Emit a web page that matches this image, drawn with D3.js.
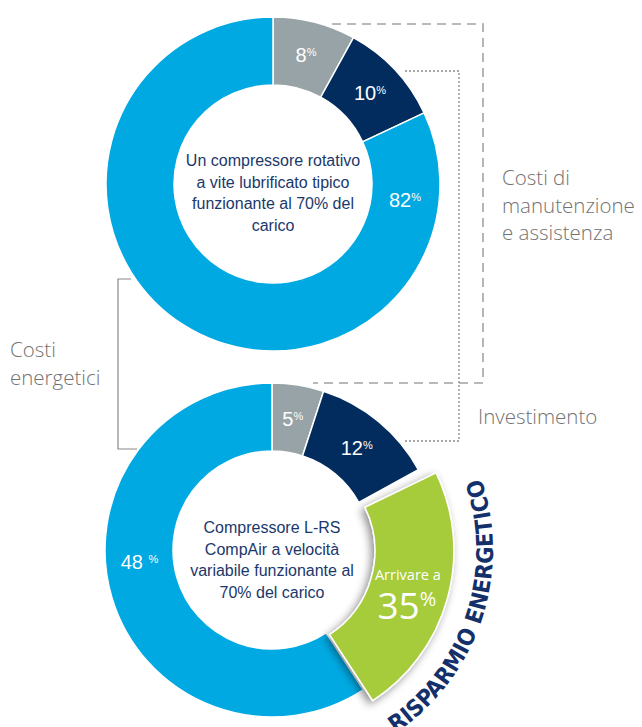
<!DOCTYPE html>
<html>
<head>
<meta charset="utf-8">
<script src="https://cdn.jsdelivr.net/npm/d3@7"></script>
<style>
  body { margin: 0; background: #fff; }
</style>
</head>
<body>
<script>
// slices go clockwise from 12 o'clock: manutenzione, investimento, (risparmio), energia
const topNames = ["Manutenzione", "Investimento", "Energia"];
const topValues = [8, 10, 82];
const bottomNames = ["Manutenzione", "Investimento", "Risparmio", "Energia"];
const bottomValues = [5, 12, 35, 48];
// the artwork is not drawn to scale: share of the ring each bottom slice really takes
const bottomShares = [5, 12, 23.8, 59.2];

const topTitle = ["Un compressore rotativo", "a vite lubrificato tipico", "funzionante al 70% del", "carico"];
const bottomTitle = ["Compressore L-RS", "CompAir a velocità", "variabile funzionante al", "70% del carico"];
const sideMaint = ["Costi di", "manutenzione", "e assistenza"];
const sideEnergy = ["Costi", "energetici"];
const sideInvest = "Investimento";
const savingLabel = "Arrivare a";
const savingBadge = "RISPARMIO ENERGETICO";

const colors = {
  Manutenzione: "#97a3a7",
  Investimento: "#022c5e",
  Energia: "#00a9e2",
  Risparmio: "#a6cb3b"
};

const W = 642, H = 727;
const R = 167, r0 = 99;
const topC = [273, 184], botC = [272, 550];
const deg = Math.PI / 180;

const svg = d3.select("body").append("svg")
    .attr("width", W)
    .attr("height", H)
    .attr("font-family", "'Liberation Sans', Arial, sans-serif");

const defs = svg.append("defs");
defs.append("filter")
    .attr("id", "shadow")
    .attr("x", "-40%").attr("y", "-40%").attr("width", "180%").attr("height", "180%")
  .append("feDropShadow")
    .attr("dx", -3).attr("dy", 3)
    .attr("stdDeviation", 4.5)
    .attr("flood-color", "#000")
    .attr("flood-opacity", 0.45);

const pie = d3.pie().sort(null).value(d => d);
const arc = d3.arc().innerRadius(r0).outerRadius(R);
const labelArc = d3.arc().innerRadius(133).outerRadius(133);

// percentage with the small raised % sign
function pctLabel(g, pos, value, gap) {
  const t = g.append("text")
      .attr("x", pos[0]).attr("y", pos[1] + 7)
      .attr("text-anchor", "middle")
      .attr("fill", "#fff")
      .attr("font-size", 20);
  t.append("tspan").text(value + (gap ? " " : ""));
  t.append("tspan").attr("font-size", 11).attr("dy", -6).text("%");
}

function centerText(g, lines, y0) {
  g.append("text")
      .attr("text-anchor", "middle")
      .attr("fill", "#1b386b")
      .attr("font-size", 16)
    .selectAll("tspan")
    .data(lines)
    .join("tspan")
      .attr("x", 0)
      .attr("y", (d, i) => y0 + i * 21.6)
      .text(d => d);
}

// ---- top donut
const gTop = svg.append("g").attr("transform", `translate(${topC})`);
const topArcs = pie(topValues);

gTop.selectAll("path")
  .data(topArcs)
  .join("path")
    .attr("d", arc)
    .attr("fill", (d, i) => colors[topNames[i]])
    .attr("stroke", "#fff")
    .attr("stroke-width", 1.5);

topArcs.forEach((d, i) => {
  let pos = labelArc.centroid(d);
  if (topNames[i] === "Energia") pos = labelArc.centroid({startAngle: 97 * deg, endAngle: 97 * deg});
  pctLabel(gTop, pos, topValues[i], false);
});
centerText(gTop, topTitle, -18);

// ---- bottom donut
const gBot = svg.append("g").attr("transform", `translate(${botC})`);
const botArcs = pie(bottomShares);

gBot.selectAll("path.slice")
  .data(botArcs.filter((d, i) => bottomNames[i] !== "Risparmio"))
  .join("path")
    .attr("class", "slice")
    .attr("d", arc)
    .attr("fill", d => colors[bottomNames[d.index]])
    .attr("stroke", "#fff")
    .attr("stroke-width", 1.5);

// exploded saving slice with its drop shadow
const saving = botArcs[bottomNames.indexOf("Risparmio")];
const savingArc = d3.arc().innerRadius(r0 + 1).outerRadius(R + 12);
const sv = {startAngle: saving.startAngle + 3 * deg, endAngle: saving.endAngle};
const mid = (sv.startAngle + sv.endAngle) / 2;
const push = 3;
const gSave = gBot.append("g")
    .attr("transform", `translate(${push * Math.sin(mid)},${-push * Math.cos(mid)})`);
gSave.append("path")
    .attr("d", savingArc(sv))
    .attr("fill", colors.Risparmio)
    .attr("stroke", "#fff")
    .attr("stroke-width", 1.5)
    .attr("filter", "url(#shadow)");

const sc = d3.arc().innerRadius(137).outerRadius(137).centroid(sv);
gSave.append("text")
    .attr("x", sc[0] + 1).attr("y", sc[1] - 8)
    .attr("text-anchor", "middle")
    .attr("fill", "#fff")
    .attr("font-family", "'Open Sans', sans-serif")
    .attr("font-size", 14.5)
    .text(savingLabel);
const big = gSave.append("text")
    .attr("x", sc[0]).attr("y", sc[1] + 31)
    .attr("text-anchor", "middle")
    .attr("fill", "#fff")
    .attr("font-family", "'Open Sans', sans-serif")
    .attr("font-size", 37);
big.append("tspan").text(bottomValues[2]);
big.append("tspan").attr("font-size", 20).attr("dy", -13).text("%");

botArcs.forEach((d, i) => {
  if (bottomNames[i] === "Risparmio") return;
  let pos = labelArc.centroid(d);
  if (bottomNames[i] === "Energia") pos = labelArc.centroid({startAngle: 265 * deg, endAngle: 265 * deg});
  pctLabel(gBot, pos, bottomValues[i], bottomNames[i] === "Energia");
});
centerText(gBot, bottomTitle, -17);

// curved badge along the saving slice, read upwards
const rText = R + 54;
const a0 = 146 * deg, a1 = 70 * deg;
const p = (a) => [botC[0] + rText * Math.sin(a), botC[1] - rText * Math.cos(a)];
defs.append("path")
    .attr("id", "badgePath")
    .attr("d", `M${p(a0)} A${rText},${rText} 0 0 0 ${p(a1)}`);
svg.append("text")
    .attr("fill", "#14306a")
    .attr("font-family", "'Liberation Sans Narrow', 'DejaVu Sans Condensed', sans-serif")
    .attr("font-stretch", "condensed")
    .attr("font-weight", "bold")
    .attr("font-size", 23)
  .append("textPath")
    .attr("href", "#badgePath")
    .attr("textLength", rText * (a0 - a1) - 4)
    .attr("lengthAdjust", "spacingAndGlyphs")
    .text(savingBadge);

// ---- connectors
const lines = svg.append("g").attr("fill", "none");
lines.append("path")
    .attr("d", `M${topC[0] + 59},${topC[1] - R + 7} H483 V${botC[1] - R} H${botC[0] + 41}`)
    .attr("stroke", "#a3a3a3")
    .attr("stroke-width", 1.6)
    .attr("stroke-dasharray", "9,6");
lines.append("path")
    .attr("d", `M405,${topC[1] - 113} H459 V441 H405`)
    .attr("stroke", "#8a8a8a")
    .attr("stroke-width", 1.3)
    .attr("stroke-dasharray", "2,2");
lines.append("path")
    .attr("d", "M131,279 H118 V449 H137")
    .attr("stroke", "#8a8a8a")
    .attr("stroke-width", 1.2);

// ---- side captions
function caption(x, y0, rows) {
  svg.append("text")
      .attr("fill", "#727272")
      .attr("font-family", "'Open Sans', sans-serif")
      .attr("font-weight", 300)
      .attr("font-size", 20.5)
    .selectAll("tspan")
    .data(rows)
    .join("tspan")
      .attr("x", x)
      .attr("y", (d, i) => y0 + i * 27.5)
      .text(d => d);
}
caption(502, 185, sideMaint);
caption(10, 357, sideEnergy);
caption(478, 424, [sideInvest]);
</script>
</body>
</html>
